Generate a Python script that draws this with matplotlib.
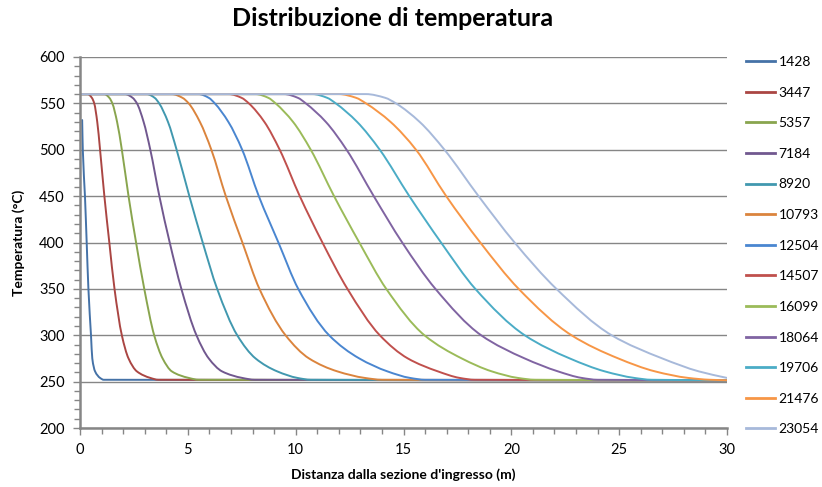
import matplotlib.pyplot as plt
from matplotlib.path import Path
from matplotlib.patches import PathPatch
from matplotlib.lines import Line2D
from matplotlib.ticker import MultipleLocator

plt.rcParams['font.family'] = ['Lato', 'DejaVu Sans']

# temperature levels (°C) at which each curve's distance was read
temps = [560, 556, 550, 530, 500, 450, 400, 350, 300, 275, 261, 254, 252]
t_start = 560
t_base = 251.5
x_end = 30

labels = ["1428", "3447", "5357", "7184", "8920", "10793", "12504",
          "14507", "16099", "18064", "19706", "21476", "23054"]

# first curve starts already below 560
x_1428 = [0.1, 0.13, 0.23, 0.31, 0.39, 0.51, 0.57, 0.7, 0.93, 1.1]
t_1428 = [532, 500, 450, 400, 350, 300, 275, 261, 254, 252]

x_3447 = [0.36, 0.55, 0.66, 0.80, 0.93, 1.13, 1.36, 1.6, 1.94, 2.25, 2.64, 3.26, 3.63]
x_5357 = [1.13, 1.36, 1.50, 1.72, 1.94, 2.25, 2.6, 2.98, 3.44, 3.83, 4.26, 5.04, 5.5]
x_7184 = [2.09, 2.44, 2.64, 2.95, 3.26, 3.68, 4.16, 4.7, 5.4, 5.97, 6.59, 7.52, 8.1]
x_8920 = [3.1, 3.46, 3.67, 4.08, 4.48, 5.07, 5.69, 6.36, 7.29, 8.14, 9.15, 10.08, 10.7]
x_10793 = [4.26, 4.75, 5.04, 5.56, 6.09, 6.76, 7.53, 8.32, 9.53, 10.62, 11.94, 13.2, 14.0]
x_12504 = [5.5, 5.97, 6.25, 6.88, 7.52, 8.29, 9.2, 10.12, 11.55, 12.95, 14.26, 15.3, 16.0]
x_14507 = [6.9, 7.49, 7.83, 8.55, 9.26, 10.19, 11.24, 12.4, 13.9, 15.2, 16.6, 17.6, 18.3]
x_16099 = [8.14, 8.73, 9.07, 9.88, 10.7, 11.78, 12.95, 14.2, 15.97, 17.7, 19.1, 20.3, 21.1]
x_18064 = [9.46, 10.1, 10.47, 11.4, 12.36, 13.62, 14.94, 16.48, 18.6, 20.62, 22.17, 23.26, 24.0]
x_19706 = [10.78, 11.46, 11.86, 12.85, 13.9, 15.27, 16.74, 18.33, 20.62, 22.71, 24.34, 25.7, 26.5]
x_21476 = [12.0, 12.8, 13.26, 14.4, 15.58, 16.98, 18.56, 20.34, 22.79, 24.96, 26.67, 28.2, 29.2]
x_23054 = [13.26, 14.15, 14.65, 15.75, 16.9, 18.48, 20.15, 22.09, 24.65, 27.0, 28.7, 30.0]

colors = ['#4572A7', '#AA4643', '#89A54E', '#71588F', '#4198AF', '#DB843D',
          '#4A86D0', '#C0504D', '#9BBB59', '#8064A2', '#4BACC6', '#F79646', '#A7B9DA']


def smooth_line(ax, xs, ys, color):
    # smoothed line like Excel's, drawn as Bezier segments through the read
    # points; monotone tangents so it never overshoots
    n = len(xs)
    h = [xs[i + 1] - xs[i] for i in range(n - 1)]
    d = [(ys[i + 1] - ys[i]) / h[i] for i in range(n - 1)]
    m = [d[0]] + [0.0] * (n - 2) + [d[-1]]
    for k in range(1, n - 1):
        if d[k - 1] * d[k] > 0:
            w1 = 2 * h[k] + h[k - 1]
            w2 = h[k] + 2 * h[k - 1]
            m[k] = (w1 + w2) / (w1 / d[k - 1] + w2 / d[k])
    verts = [(xs[0], ys[0])]
    codes = [Path.MOVETO]
    for i in range(n - 1):
        verts += [(xs[i] + h[i] / 3, ys[i] + m[i] * h[i] / 3),
                  (xs[i + 1] - h[i] / 3, ys[i + 1] - m[i + 1] * h[i] / 3),
                  (xs[i + 1], ys[i + 1])]
        codes += [Path.CURVE4] * 3
    ax.add_patch(PathPatch(Path(verts, codes), fill=False, edgecolor=color,
                           lw=1.4, capstyle='round', joinstyle='round'))


fig = plt.figure(figsize=(8.22, 4.87), dpi=100)
ax = fig.add_axes([80 / 822, 1 - 428 / 487, (727 - 80) / 822, (428 - 57) / 487])

curves = [x_3447, x_5357, x_7184, x_8920, x_10793, x_12504, x_14507,
          x_16099, x_18064, x_19706, x_21476, x_23054]

smooth_line(ax, x_1428 + [x_end], t_1428 + [t_base], colors[0])
for i, xs in enumerate(curves):
    ts = temps[:len(xs)]
    px = [0] + xs
    pt = [t_start] + ts
    if xs[-1] < x_end:
        px = px + [x_end]
        pt = pt + [t_base]
    smooth_line(ax, px, pt, colors[i + 1])

handles = [Line2D([], [], color=c, lw=2) for c in colors]

ax.set_xlim(0, 30)
ax.set_ylim(200, 600)
ax.xaxis.set_major_locator(MultipleLocator(5))
ax.xaxis.set_minor_locator(MultipleLocator(1))
ax.yaxis.set_major_locator(MultipleLocator(50))
ax.yaxis.set_minor_locator(MultipleLocator(10))
ax.grid(axis='y', which='major', color='#868686', lw=1)
ax.set_axisbelow(True)
for s in ['top', 'right']:
    ax.spines[s].set_visible(False)
for s in ['left', 'bottom']:
    ax.spines[s].set_color('#868686')
    ax.spines[s].set_linewidth(1.8)
ax.tick_params(which='both', direction='out', color='#868686', width=1, labelsize=10.5)
ax.tick_params(which='major', length=5, pad=6)
ax.tick_params(which='minor', length=4)

ax.set_xlabel("Distanza dalla sezione d'ingresso (m)", fontsize=10, fontweight='bold', labelpad=8)
ax.set_ylabel("Temperatura (°C)", fontsize=10, fontweight='bold', labelpad=10)
fig.suptitle("Distribuzione di temperatura", x=0.478, y=0.985, fontsize=18, fontweight='bold')

ax.legend(handles, labels, loc='upper left', bbox_to_anchor=(746 / 822, 1 - 56 / 487),
          bbox_transform=fig.transFigure, frameon=False, fontsize=10,
          handlelength=2.1, handletextpad=0.25, labelspacing=1.34, borderaxespad=0,
          borderpad=0)

fig.savefig("out.png", dpi=100)
